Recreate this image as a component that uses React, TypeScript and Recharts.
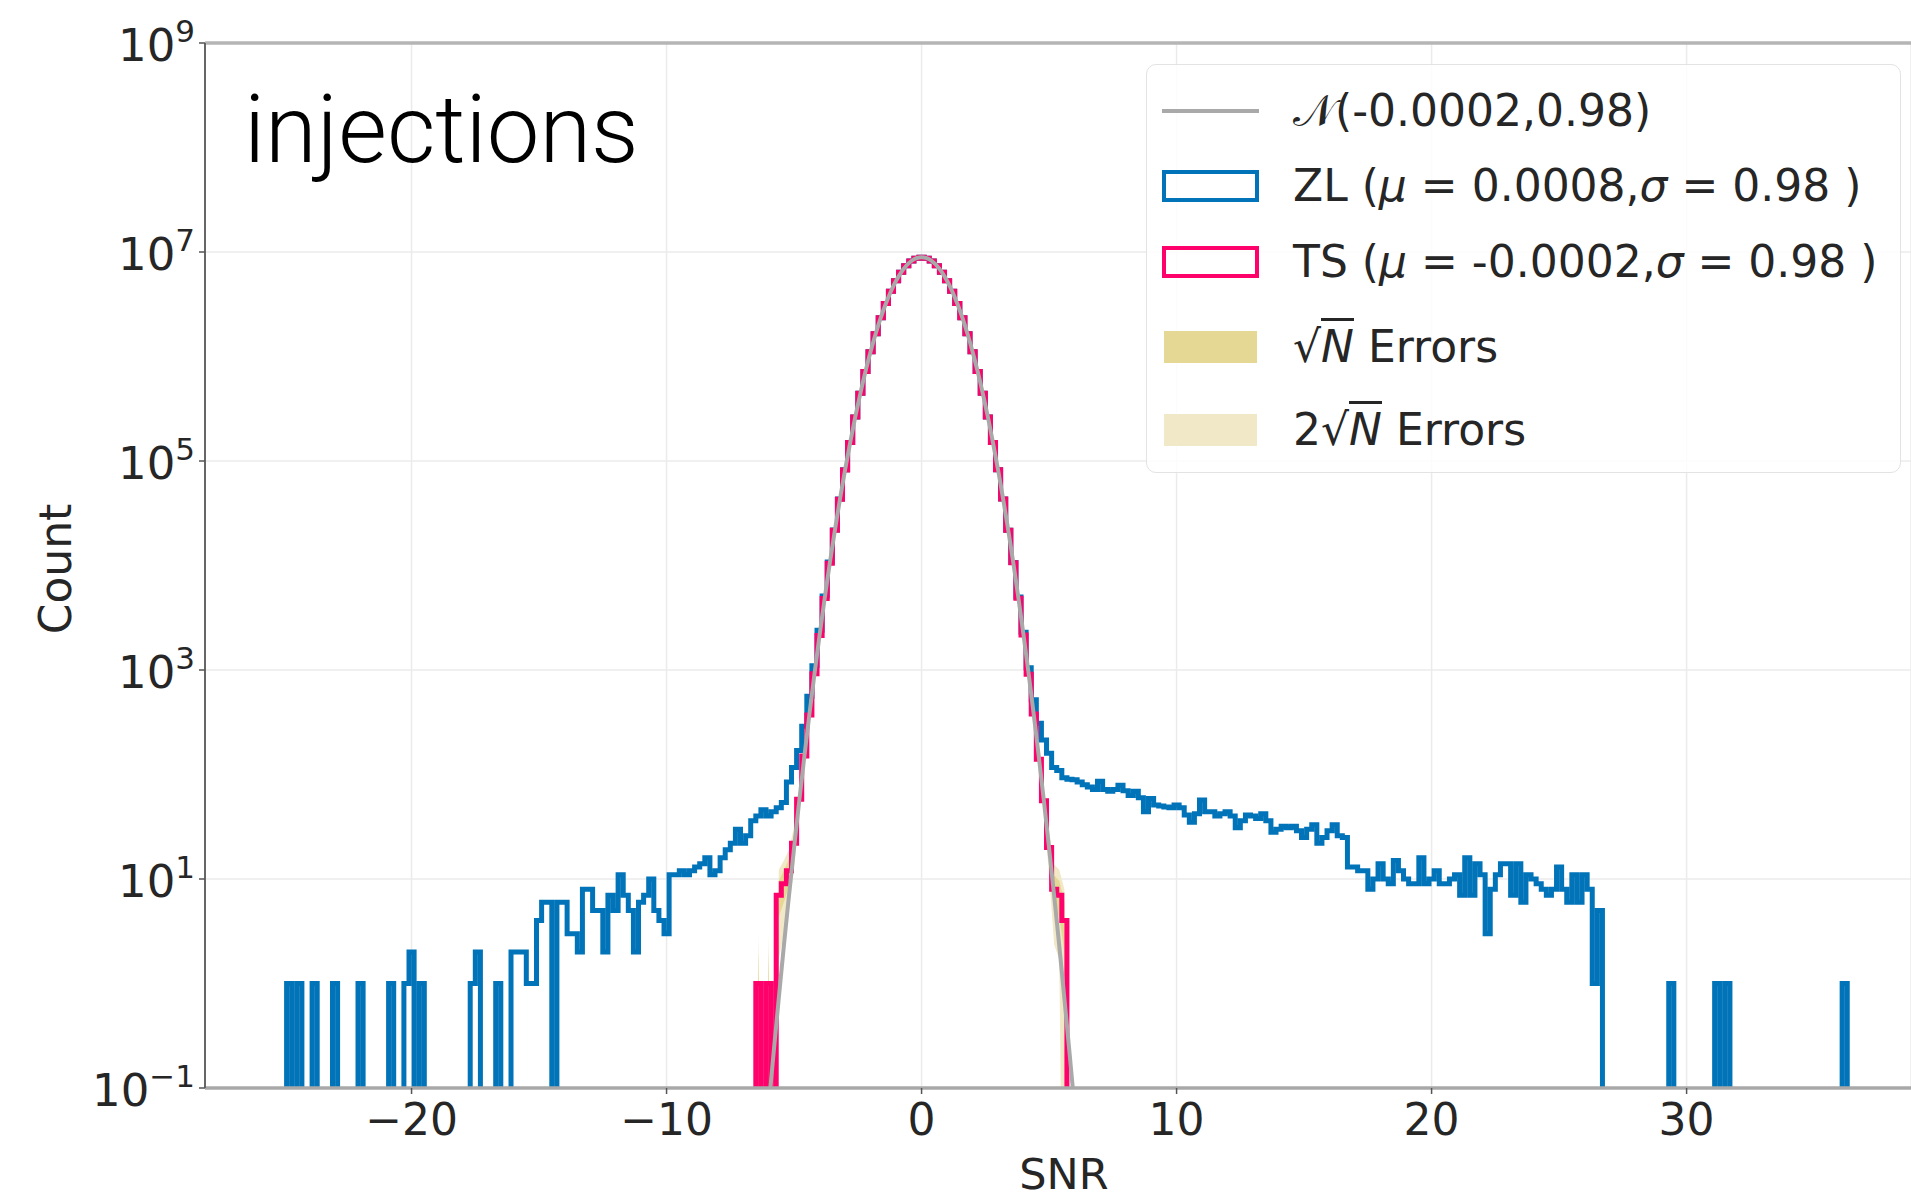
import React from 'react';
import { ComposedChart, Line, Area, XAxis, YAxis, CartesianGrid, ReferenceLine, Legend } from 'recharts';

// ---------------- data ----------------
const BIN_WIDTH = 0.2;
const GRID_START = -25.0;
const GRID_BINS = 310; // bin centres -25.0 ... 36.8

// ZL histogram: isolated counts in the far left tail
const zlLeftSpikeX = [-24.8, -24.4, -23.8, -23.0, -22.0, -20.8, -20.2, -20.0, -19.6, -17.6, -17.4, -16.6, -16.0, -15.8, -15.6, -15.4, -15.2];
const zlLeftSpikeCount = [1, 1, 1, 1, 1, 1, 1, 2, 1, 1, 2, 1, 2, 2, 2, 1, 1];

// ZL histogram: dense part, bin centres from -15.0 to 26.8
const zlDenseStart = -15.0;
const zlDenseCounts = [
  4, 6, 6, 0, 6, 6, 3, 3, 2, 8,
  8, 5, 5, 2, 7, 5, 11, 7, 5, 2,
  6, 7, 10, 5, 4, 3, 11, 11, 12, 11,
  12, 13, 14, 16, 11, 12, 16, 19, 22, 30,
  22, 26, 36, 40, 46, 40, 44, 48, 54, 85,
  117, 170, 290, 560, 1100, 2400, 5100, 10800, 21900, 43200,
  82400, 150000, 264000, 444000, 717000, 1110000, 1650000, 2350000, 3210000, 4210000,
  5300000, 6390000, 7390000, 8200000, 8730000, 8910000, 8730000, 8200000, 7390000, 6390000,
  5300000, 4210000, 3210000, 2350000, 1650000, 1110000, 717000, 444000, 264000, 150000,
  82300, 43200, 21800, 10700, 5000, 2300, 1050, 520, 310, 214,
  160, 117, 109, 93, 90, 89, 85, 80, 76, 72,
  86, 72, 69, 72, 79, 70, 63, 69, 60, 44,
  59, 51, 50, 49, 48, 51, 48, 41, 35, 42,
  57, 44, 44, 40, 42, 44, 40, 31, 36, 41,
  40, 38, 42, 36, 28, 30, 32, 31, 32, 29,
  25, 30, 33, 22, 25, 29, 33, 26, 25, 13,
  13, 12, 12, 8, 10, 14, 10, 9, 15, 12,
  10, 9, 9, 16, 9, 10, 12, 9, 9, 10,
  11, 7, 16, 7, 14, 11, 3, 8, 11, 14,
  14, 7, 14, 6, 11, 10, 9, 8, 7, 8,
  13, 8, 6, 11, 6, 11, 8, 1, 5, 0,
];

// ZL histogram: isolated counts in the far right tail
const zlRightSpikeX = [29.4, 31.2, 31.6, 36.2];
const zlRightSpikeCount = [1, 1, 1, 1];

// TS histogram, bin centres from -6.6 to 6.0
const tsStart = -6.6;
const tsCounts = [
  0, 1, 0, 1, 0, 7, 9, 12, 22, 58,
  150, 370, 920, 2140, 4830, 10500, 21700, 43100, 82200, 150000,
  264000, 444000, 717000, 1110000, 1650000, 2350000, 3210000, 4210000, 5300000, 6390000,
  7390000, 8200000, 8730000, 8910000, 8730000, 8200000, 7390000, 6390000, 5300000, 4210000,
  3210000, 2350000, 1650000, 1110000, 717000, 444000, 264000, 150000, 82300, 43200,
  21800, 10600, 4850, 2160, 910, 380, 140, 56, 20, 8,
  7, 4, 0, 0,
];

// Normal curve N(-0.0002, 0.98), sampled from -6.0 to 6.0
const gaussStart = -6.0;
const gaussValues = [
  0.065, 0.22, 0.72, 2.3, 6.9, 19.8, 55, 146, 374, 915,
  2150, 4840, 10500, 21700, 43100, 82300, 150000, 264000, 444000, 717000,
  1110000, 1650000, 2350000, 3210000, 4210000, 5300000, 6390000, 7390000, 8200000, 8730000,
  8910000,
  8730000, 8200000, 7390000, 6390000, 5300000, 4210000, 3210000, 2350000, 1650000, 1110000,
  717000, 444000, 264000, 150000, 82300, 43100, 21700, 10500, 4840, 2150,
  915, 374, 146, 55, 19.8, 6.9, 2.3, 0.72, 0.22, 0.065,
];

const xTicks = [-20, -10, 0, 10, 20, 30];
const yTicks = [0.1, 10, 1e3, 1e5, 1e7, 1e9];
const X_DOMAIN: [number, number] = [-28.1, 38.8];
const Y_DOMAIN: [number, number] = [0.1, 1e9];

// ---------------- styles ----------------
const ZL_COLOR = '#0173b8';
const TS_COLOR = '#fe016b';
const GAUSS_COLOR = '#a9a9a9';
const ERR1_COLOR = '#e5d895';
const ERR2_COLOR = '#f0e8c6';
const TEXT = '#262626';
const FONT = "'DejaVu Sans', 'Noto Sans', sans-serif";
const FLOOR = 1e-4; // empty bins fall below the axis (log scale)

// ---------------- table built from the arrays ----------------
const k10 = (v: number) => Math.round(v * 10);
const zlMap = new Map<number, number>();
zlLeftSpikeX.forEach((x, i) => zlMap.set(k10(x), zlLeftSpikeCount[i]));
zlDenseCounts.forEach((c, i) => zlMap.set(k10(zlDenseStart + i * BIN_WIDTH), c));
zlRightSpikeX.forEach((x, i) => zlMap.set(k10(x), zlRightSpikeCount[i]));
const tsMap = new Map<number, number>();
tsCounts.forEach((c, i) => tsMap.set(k10(tsStart + i * BIN_WIDTH), c));
const gaussMap = new Map<number, number>();
gaussValues.forEach((g, i) => gaussMap.set(k10(gaussStart + i * BIN_WIDTH), g));

const errBand = (n: number, k: number): [number, number] =>
  n > 0 ? [Math.max(n - k * Math.sqrt(n), FLOOR), n + k * Math.sqrt(n)] : [FLOOR, FLOOR];

const rows = Array.from({ length: GRID_BINS }, (_, i) => {
  const key = k10(GRID_START + i * BIN_WIDTH);
  const x = key / 10;
  const zl = zlMap.get(key) ?? 0;
  const ts = tsMap.get(key);
  const g = gaussMap.get(key);
  return {
    x,
    zl: zl > 0 ? zl : FLOOR,
    ts: ts === undefined ? null : ts > 0 ? ts : FLOOR,
    err1: ts === undefined ? null : errBand(ts, 1),
    err2: ts === undefined ? null : errBand(ts, 2),
    gauss: g === undefined ? null : g,
  };
});

// ---------------- ticks ----------------
const XTick = (props: any) => {
  const { x, y, payload } = props;
  const v = payload.value;
  const s = v < 0 ? '\u2212' + Math.abs(v) : String(v);
  return (
    <text x={x} y={y + 31} textAnchor="middle" fontFamily={FONT} fontSize={44} fill={TEXT}>
      {s}
    </text>
  );
};

const YTick = (props: any) => {
  const { x, y, payload } = props;
  const exp = Math.round(Math.log10(payload.value));
  const e = exp < 0 ? '\u2212' + Math.abs(exp) : String(exp);
  return (
    <text x={x} y={y + 18} textAnchor="end" fontFamily={FONT} fontSize={45} fill={TEXT}>
      10<tspan dy={-19} fontSize={31}>{e}</tspan>
    </text>
  );
};

// ---------------- legend ----------------
const Overline = ({ children }: { children: React.ReactNode }) => (
  <span style={{ fontStyle: 'italic', borderTop: `3px solid ${TEXT}`, paddingTop: 0 }}>{children}</span>
);

const LegendBox = () => {
  const centers = [46, 121, 197, 282, 365];
  const hx = 15;
  const hw = 97;
  const tx = 146;
  const textRow = (c: number, content: React.ReactNode) => (
    <div style={{ position: 'absolute', left: tx, top: c - 25, height: 50, lineHeight: '50px', whiteSpace: 'nowrap' }}>{content}</div>
  );
  return (
    <div
      style={{
        position: 'relative', width: 755, height: 409, boxSizing: 'border-box',
        border: '1.5px solid #e3e3e3', borderRadius: 10, background: 'rgba(255,255,255,0.85)',
        fontFamily: FONT, fontSize: 44, color: TEXT,
      }}
    >
      <div style={{ position: 'absolute', left: hx, top: centers[0] - 2, width: hw, height: 4, background: GAUSS_COLOR }} />
      {textRow(centers[0], <>{'\u{1D4A9}'}(-0.0002,0.98)</>)}

      <div style={{ position: 'absolute', left: hx, top: centers[1] - 16, width: hw, height: 32, border: `4px solid ${ZL_COLOR}`, boxSizing: 'border-box' }} />
      {textRow(centers[1], <>ZL (<i>μ</i> = 0.0008,<i>σ</i> = 0.98 )</>)}

      <div style={{ position: 'absolute', left: hx, top: centers[2] - 16, width: hw, height: 32, border: `4px solid ${TS_COLOR}`, boxSizing: 'border-box' }} />
      {textRow(centers[2], <>TS (<i>μ</i> = -0.0002,<i>σ</i> = 0.98 )</>)}

      <div style={{ position: 'absolute', left: hx + 2, top: centers[3] - 16, width: hw - 4, height: 32, background: ERR1_COLOR }} />
      {textRow(centers[3], <>√<Overline>N</Overline> Errors</>)}

      <div style={{ position: 'absolute', left: hx + 2, top: centers[4] - 16, width: hw - 4, height: 32, background: ERR2_COLOR }} />
      {textRow(centers[4], <>2√<Overline>N</Overline> Errors</>)}
    </div>
  );
};

export default function App() {
  return (
    <div style={{ position: 'absolute', left: 0, top: 0, width: 1911, height: 1201, background: '#ffffff', overflow: 'hidden' }}>
      <ComposedChart width={1911} height={1201} data={rows} margin={{ top: 43, right: 0, bottom: 0, left: 0 }}>
        <CartesianGrid stroke="#ebebeb" strokeWidth={1.5} />
        <XAxis
          type="number" dataKey="x" domain={X_DOMAIN} allowDataOverflow ticks={xTicks} interval={0}
          height={113} tick={<XTick />} tickSize={6} tickMargin={10}
          axisLine={{ stroke: '#a8a8a8', strokeWidth: 3.5 }} tickLine={{ stroke: '#555', strokeWidth: 1.5 }}
        />
        <YAxis
          type="number" scale="log" domain={Y_DOMAIN} allowDataOverflow ticks={yTicks} interval={0}
          width={205} tick={<YTick />} tickSize={6} tickMargin={4}
          axisLine={{ stroke: '#666', strokeWidth: 2 }} tickLine={{ stroke: '#555', strokeWidth: 1.5 }}
        />
        <ReferenceLine y={1e9} stroke="#b5b5b5" strokeWidth={3.5} />
        <Area dataKey="err2" type="linear" stroke="none" fill={ERR2_COLOR} fillOpacity={1} isAnimationActive={false} />
        <Area dataKey="err1" type="linear" stroke="none" fill={ERR1_COLOR} fillOpacity={1} isAnimationActive={false} />
        <Line dataKey="zl" type="step" stroke={ZL_COLOR} strokeWidth={5} dot={false} isAnimationActive={false} />
        <Line dataKey="ts" type="step" stroke={TS_COLOR} strokeWidth={5} dot={false} isAnimationActive={false} />
        <Line dataKey="gauss" type="monotone" stroke={GAUSS_COLOR} strokeWidth={4} dot={false} isAnimationActive={false} />
        <Legend
          layout="horizontal" verticalAlign="middle" align="center"
          wrapperStyle={{ left: 1146, top: 64, width: 755, height: 409 }}
          content={() => <LegendBox />}
        />
      </ComposedChart>
      <svg width={1911} height={1201} style={{ position: 'absolute', left: 0, top: 0, pointerEvents: 'none' }}>
        <text x={244} y={162} fontFamily="Roboto, 'Liberation Sans', sans-serif" fontWeight={300} fontSize={94} fill="#000">injections</text>
        <text x={55} y={569} transform="rotate(-90, 55, 569)" textAnchor="middle" dominantBaseline="central" fontFamily={FONT} fontSize={44} fill={TEXT}>Count</text>
        <text x={1064} y={1189} textAnchor="middle" fontFamily={FONT} fontSize={43} fill={TEXT}>SNR</text>
      </svg>
    </div>
  );
}
